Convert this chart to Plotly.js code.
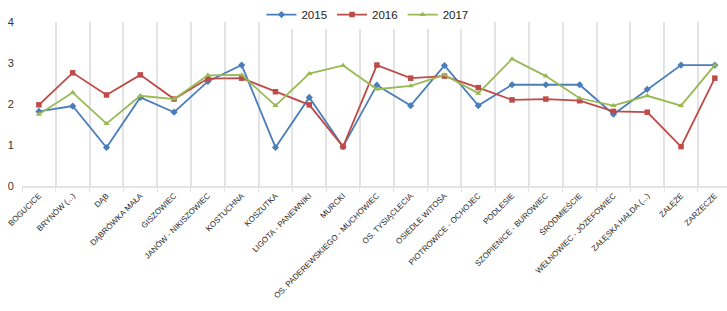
<!DOCTYPE html>
<html>
<head>
<meta charset="utf-8">
<script src="https://cdn.plot.ly/plotly-3.0.1.min.js"></script>
<style>html,body{margin:0;padding:0;background:#fff;}#chart{width:727px;height:311px;}</style>
</head>
<body>
<div id="chart"></div>
<script>
const categories = ["BOGUCICE", "BRYNÓW (...)", "DĄB", "DĄBRÓWKA MAŁA", "GISZOWIEC", "JANÓW - NIKISZOWIEC", "KOSTUCHNA", "KOSZUTKA", "LIGOTA - PANEWNIKI", "MURCKI", "OS. PADEREWSKIEGO - MUCHOWIEC", "OS. TYSIĄCLECIA", "OSIEDLE WITOSA", "PIOTROWICE - OCHOJEC", "PODLESIE", "SZOPIENICE - BUROWIEC", "ŚRÓDMIEŚCIE", "WEŁNOWIEC - JÓZEFOWIEC", "ZAŁĘSKA HAŁDA (...)", "ZAŁĘŻE", "ZARZECZE"];
const seriesNames = ["2015", "2016", "2017"];
const values2015 = [1.82, 1.95, 0.94, 2.16, 1.80, 2.55, 2.95, 0.94, 2.16, 0.96, 2.46, 1.96, 2.94, 1.96, 2.47, 2.47, 2.47, 1.75, 2.36, 2.95, 2.95];
const values2016 = [1.98, 2.76, 2.22, 2.71, 2.12, 2.62, 2.63, 2.30, 1.98, 0.96, 2.95, 2.63, 2.68, 2.40, 2.10, 2.12, 2.08, 1.82, 1.80, 0.96, 2.63];
const values2017 = [1.75, 2.28, 1.52, 2.20, 2.12, 2.70, 2.71, 1.96, 2.74, 2.94, 2.36, 2.44, 2.71, 2.26, 3.10, 2.68, 2.14, 1.96, 2.20, 1.96, 2.95];
const yTicks = [0, 1, 2, 3, 4];

const colors = ["#4A7EBB", "#BE4B48", "#98B954"];
const symbols = ["diamond", "square", "triangle-up"];
const allValues = [values2015, values2016, values2017];

const traces = allValues.map((vals, i) => ({
  type: "scatter",
  mode: "lines+markers",
  name: seriesNames[i],
  x: categories,
  y: vals,
  line: {color: colors[i], width: 1.8},
  marker: {color: colors[i], symbol: symbols[i], size: 5.5}
}));

const layout = {
  width: 727,
  height: 311,
  margin: {l: 22, r: 0, t: 19, b: 125},
  paper_bgcolor: "#fff",
  plot_bgcolor: "#fff",
  font: {family: "Liberation Sans, Arial, sans-serif", color: "#404040"},
  showlegend: true,
  legend: {
    orientation: "h",
    x: 0.49, xanchor: "center",
    y: 1.045, yanchor: "middle",
    font: {size: 11.5, color: "#222"},
    itemwidth: 30,
    tracegroupgap: 0
  },
  xaxis: {
    type: "category",
    range: [-0.5, 20.36],
    tickson: "boundaries",
    showgrid: true,
    gridcolor: "#e3e3e3",
    gridwidth: 2,
    tickangle: -45,
    tickfont: {size: 8, color: "#2a2a2a"},
    ticks: "outside",
    ticklen: 4,
    tickwidth: 1,
    tickcolor: "#e3e3e3",
    showline: true,
    linecolor: "#e3e3e3",
    linewidth: 2,
    zeroline: false,
    fixedrange: true
  },
  yaxis: {
    range: [0, 4],
    tickvals: yTicks,
    ticktext: yTicks.map(String),
    showgrid: false,
    zeroline: false,
    showline: false,
    ticks: "outside",
    ticklen: 5,
    tickcolor: "rgba(0,0,0,0)",
    tickfont: {size: 11, color: "#333"},
    fixedrange: true
  }
};

Plotly.newPlot("chart", traces, layout, {displayModeBar: false, staticPlot: true});
</script>
</body>
</html>
